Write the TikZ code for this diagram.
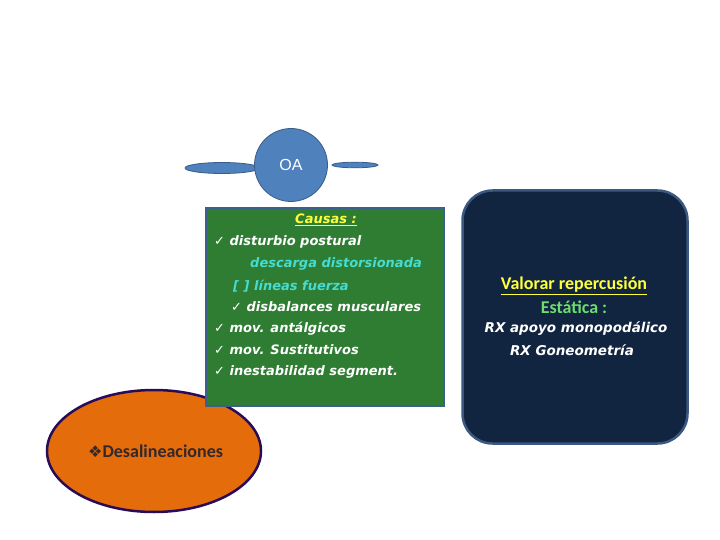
\documentclass[tikz,border=0pt]{standalone}
\usepackage{fontspec}
\setmainfont{Carlito}
\newfontfamily\dv{DejaVu Sans}
\newfontfamily\lib{Liberation Sans}
\usetikzlibrary{shapes.geometric}
\definecolor{oablue}{RGB}{79,129,189}
\definecolor{oaedge}{RGB}{56,93,138}
\definecolor{boxgreen}{RGB}{46,125,50}
\definecolor{boxedge}{RGB}{60,96,140}
\definecolor{navy}{RGB}{17,36,64}
\definecolor{navyedge}{RGB}{58,88,128}
\definecolor{orng}{RGB}{228,108,10}
\definecolor{orngedge}{RGB}{40,12,90}
\definecolor{cyantxt}{RGB}{70,220,210}
\definecolor{ytxt}{RGB}{255,255,60}
\definecolor{gtxt}{RGB}{110,220,110}
\definecolor{darktxt}{RGB}{50,40,45}
\tikzset{
  gline/.style={anchor=west, inner sep=0pt, font=\dv\bfseries\itshape\fontsize{13}{15}\selectfont, text=white},
  rline/.style={anchor=center, inner sep=0pt, font=\dv\itshape\bfseries\fontsize{13.5}{15}\selectfont, text=white},
}
\begin{document}
\begin{tikzpicture}[x=1pt,y=-1pt]
\useasboundingbox (0,0) rectangle (720,540);
% OA group
\draw[oaedge, fill=oablue, line width=0.8pt] (222,168) ellipse [x radius=37, y radius=5.5];
\draw[oaedge, fill=oablue, line width=0.8pt] (355,165) ellipse [x radius=23, y radius=2.8];
\node[circle, draw=oaedge, fill=oablue, line width=0.8pt, minimum size=73, inner sep=0pt, text=white, font=\lib\fontsize{16}{18}\selectfont] (oa) at (291,165) {OA};
% orange ellipse
\node[ellipse, draw=orngedge, fill=orng, line width=2.5pt, minimum width=214, minimum height=122, inner sep=0pt] (des) at (154,451) {};
\node[anchor=west, inner sep=0pt, text=darktxt, font=\bfseries\fontsize{18}{20}\selectfont] (destxt) at (88,451) {{\dv\fontsize{16}{18}\selectfont ❖}Desalineaciones};
% green box
\node[rectangle, draw=boxedge, fill=boxgreen, line width=2.5pt, minimum width=238, minimum height=198, inner sep=0pt] (causas) at (325,307) {};
\node[inner sep=0pt, text=ytxt, font=\dv\bfseries\itshape\fontsize{13}{15}\selectfont] (c0) at (326,220) {\underline{Causas :}};
\node[gline] (c1) at (214,242) {✓ disturbio postural};
\node[gline, text=cyantxt] (c2) at (250,264) {descarga distorsionada};
\node[gline, text=cyantxt] (c3) at (233,286) {[ ] líneas fuerza};
\node[gline] (c4) at (231,307) {✓ disbalances musculares};
\node[gline] (c5) at (214,329) {✓ mov. antálgicos};
\node[gline] (c6) at (214,350) {✓ mov. Sustitutivos};
\node[gline] (c7) at (214,372) {✓ inestabilidad segment.};
% navy box
\node[rectangle, rounded corners=30pt, draw=navyedge, fill=navy, line width=2.5pt, minimum width=225, minimum height=253, inner sep=0pt] (val) at (575,317) {};
\node[inner sep=0pt, text=ytxt, font=\bfseries\fontsize{18}{20}\selectfont] (v1) at (574,286) {\underline{Valorar repercusión}};
\node[inner sep=0pt, text=gtxt, font=\bfseries\fontsize{18}{20}\selectfont] (v2) at (574,307) {Estática :};
\node[rline] (v3) at (576,329) {RX apoyo monopodálico};
\node[rline] (v4) at (572,350) {RX Goneometría};
\end{tikzpicture}
\end{document}
